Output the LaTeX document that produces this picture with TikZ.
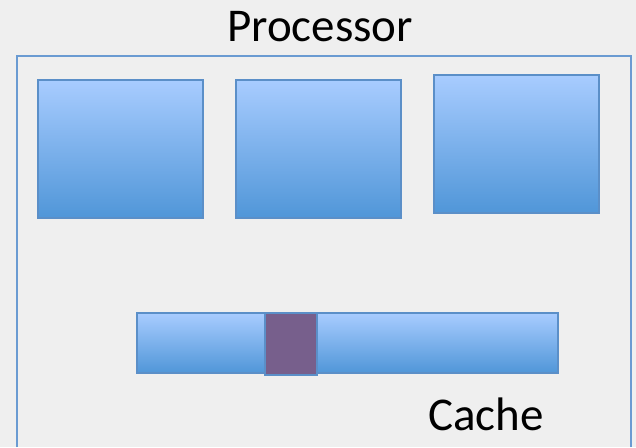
\documentclass[tikz,border=0pt]{standalone}
\usepackage{fontspec}
\setmainfont{Carlito}
\definecolor{bgcol}{HTML}{EFEFEF}
\definecolor{framecol}{HTML}{6A9BD2}
\definecolor{edgecol}{HTML}{5B8FC8}
\definecolor{topcol}{HTML}{A8CCFF}
\definecolor{botcol}{HTML}{5096D8}
\definecolor{linecol}{HTML}{775F8C}
\tikzset{
  core/.style={draw=edgecol, line width=1.5pt, top color=topcol, bottom color=botcol,
    minimum width=165pt, minimum height=138pt, inner sep=0pt},
  cachebar/.style={core, minimum width=421pt, minimum height=60pt},
  cacheline/.style={draw=edgecol, line width=2pt, fill=linecol,
    minimum width=52pt, minimum height=62pt, inner sep=0pt},
  label/.style={font=\fontsize{47}{50}\selectfont, anchor=base, inner sep=0pt}
}
\begin{document}
\begin{tikzpicture}[x=1pt,y=-1pt]
\useasboundingbox[fill=bgcol] (0,0) rectangle (636,447);
% processor frame, open at the bottom
\draw[framecol, line width=1.5pt] (17,447) -- (17,56) -- (631,56) -- (631,447);
\node[label] (proc) at (320,41) {Processor};
% cores
\node[core] (core1) at (120.5,149) {};
\node[core] (core2) at (318.5,149) {};
\node[core] (core3) at (516.5,144) {};
% cache
\node[cachebar] (cache) at (347.5,343) {};
\node[cacheline] (line) at (291,344) {};
\node[label] (cachelbl) at (486,430) {Cache};
\end{tikzpicture}
\end{document}
